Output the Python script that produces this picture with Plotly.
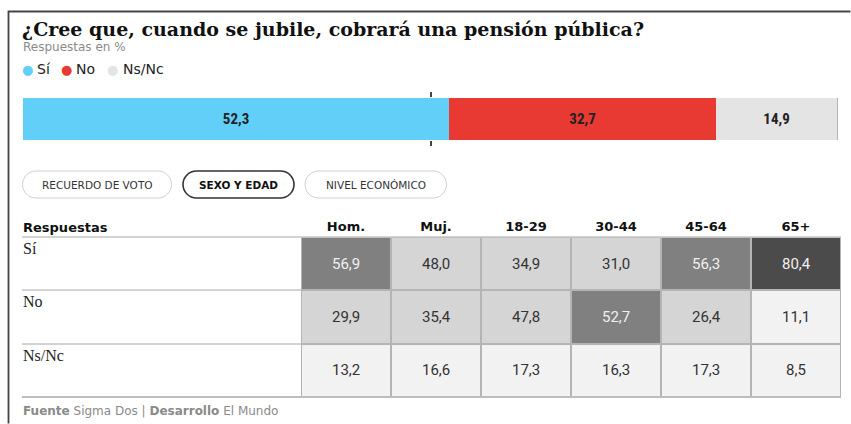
import plotly.graph_objects as go

W, H = 851, 424

# ---------------- data ----------------
answers = ["Sí", "No", "Ns/Nc"]
overall = [52.3, 32.7, 14.9]
answer_colors = ["#62cff9", "#e83a33", "#e4e4e4"]

groups = ["Hom.", "Muj.", "18-29", "30-44", "45-64", "65+"]
si_vals = [56.9, 48.0, 34.9, 31.0, 56.3, 80.4]
no_vals = [29.9, 35.4, 47.8, 52.7, 26.4, 11.1]
nsnc_vals = [13.2, 16.6, 17.3, 16.3, 17.3, 8.5]
table_vals = [si_vals, no_vals, nsnc_vals]

buttons = ["RECUERDO DE VOTO", "SEXO Y EDAD", "NIVEL ECONÓMICO"]

title = "¿Cree que, cuando se jubile, cobrará una pensión pública?"
subtitle = "Respuestas en %"


def fmt(v):
    return f"{v:.1f}".replace(".", ",")


def px(x):
    return x / W


def py(y):
    return 1 - y / H


SANS = "DejaVu Sans, sans-serif"
CELL = "Roboto, DejaVu Sans, sans-serif"
SERIF_T = "DejaVu Serif, serif"
SERIF = "Liberation Serif, serif"
NARROW = "Liberation Sans Narrow, Roboto Condensed, Roboto, sans-serif"

fig = go.Figure()

# ---------------- stacked bar ----------------
for name, val, col in zip(answers, overall, answer_colors):
    fig.add_trace(go.Bar(
        x=[val], y=[""], orientation="h", name=name,
        marker=dict(color=col, line=dict(width=0)),
        text=[f"<b>{fmt(val)}</b>"], textposition="inside",
        insidetextanchor="middle",
        textfont=dict(family=NARROW, size=15, color="#222"),
        hoverinfo="skip", showlegend=False,
        xaxis="x", yaxis="y",
    ))

# ---------------- heatmap table ----------------
colorscale = [
    [0.0, "#f2f2f2"], [0.2, "#f2f2f2"],
    [0.2, "#d5d5d5"], [0.5, "#d5d5d5"],
    [0.5, "#808080"], [0.75, "#808080"],
    [0.75, "#4b4b4b"], [1.0, "#4b4b4b"],
]
fig.add_trace(go.Heatmap(
    z=table_vals, x=groups, y=answers,
    zmin=0, zmax=100, colorscale=colorscale, showscale=False,
    xgap=2, ygap=2, hoverinfo="skip",
    xaxis="x2", yaxis="y2",
))

annotations = []
for r, row in enumerate(table_vals):
    for c, v in enumerate(row):
        annotations.append(dict(
            x=groups[c], y=answers[r], xref="x2", yref="y2",
            text=fmt(v), showarrow=False,
            font=dict(family=CELL, size=15,
                      color="#f0f0f0" if v >= 50 else "#333"),
        ))

# row labels (serif, top-left of each row)
for r, name in enumerate(answers):
    annotations.append(dict(
        x=px(21), y=r - 0.5, xref="paper", yref="y2",
        xanchor="left", yanchor="top", yshift=-1,
        text=name, showarrow=False,
        font=dict(family=SERIF, size=16, color="#222"),
    ))

# table header
annotations.append(dict(
    x=px(21), y=py(227.5), xref="paper", yref="paper",
    xanchor="left", yanchor="middle", text="<b>Respuestas</b>",
    showarrow=False, font=dict(family=SANS, size=13, color="#111"),
))

# title / subtitle
annotations.append(dict(
    x=px(20), y=py(29), xref="paper", yref="paper",
    xanchor="left", yanchor="middle", text=f"<b>{title}</b>",
    showarrow=False, font=dict(family=SERIF_T, size=19, color="#111"),
))
annotations.append(dict(
    x=px(21), y=py(47), xref="paper", yref="paper",
    xanchor="left", yanchor="middle", text=subtitle,
    showarrow=False, font=dict(family=SANS, size=12, color="#8a8a8a"),
))

# legend
leg_dot_x = [27, 66, 112]
leg_txt_x = [35, 74, 121]
for name, col, dx, tx in zip(answers, answer_colors, leg_dot_x, leg_txt_x):
    annotations.append(dict(
        x=px(dx), y=py(69), xref="paper", yref="paper",
        xanchor="center", yanchor="middle", text="●",
        showarrow=False, font=dict(family="DejaVu Sans", size=13, color=col),
    ))
    annotations.append(dict(
        x=px(tx), y=py(69), xref="paper", yref="paper",
        xanchor="left", yanchor="middle", text=name,
        showarrow=False, font=dict(family=SANS, size=14, color="#222"),
    ))

# buttons (pills)
shapes = []
pill_x = [(22.5, 171.5), (183, 294), (305, 446.5)]
pill_y = (171, 198)


def pill_path(x0, x1, y0, y1):
    r = (y1 - y0) / 2
    k = 0.5523 * r
    X = px
    Y = py
    p = f"M {X(x0 + r)},{Y(y0)} L {X(x1 - r)},{Y(y0)} "
    p += f"C {X(x1 - r + k)},{Y(y0)} {X(x1)},{Y(y0 + r - k)} {X(x1)},{Y(y0 + r)} "
    p += f"C {X(x1)},{Y(y0 + r + k)} {X(x1 - r + k)},{Y(y1)} {X(x1 - r)},{Y(y1)} "
    p += f"L {X(x0 + r)},{Y(y1)} "
    p += f"C {X(x0 + r - k)},{Y(y1)} {X(x0)},{Y(y0 + r + k)} {X(x0)},{Y(y0 + r)} "
    p += f"C {X(x0)},{Y(y0 + r - k)} {X(x0 + r - k)},{Y(y0)} {X(x0 + r)},{Y(y0)} Z"
    return p


for i, (label, (x0, x1)) in enumerate(zip(buttons, pill_x)):
    active = (i == 1)
    shapes.append(dict(
        type="path", path=pill_path(x0, x1, *pill_y),
        xref="paper", yref="paper",
        line=dict(color="#333" if active else "#d0d0d0", width=1.6 if active else 1),
        fillcolor="white",
    ))
    annotations.append(dict(
        x=px((x0 + x1) / 2), y=py(185), xref="paper", yref="paper",
        xanchor="center", yanchor="middle",
        text=f"<b>{label}</b>" if active else label,
        showarrow=False,
        font=dict(family=SANS, size=10.5, color="#111" if active else "#333"),
    ))

# footer
annotations.append(dict(
    x=px(21), y=py(411), xref="paper", yref="paper",
    xanchor="left", yanchor="middle",
    text="<b>Fuente</b> Sigma Dos | <b>Desarrollo</b> El Mundo",
    showarrow=False, font=dict(family=SANS, size=12, color="#8a8a8a"),
))

# frame (left + top) as a single open path
shapes.append(dict(
    type="path", xref="paper", yref="paper",
    path=f"M {px(8.5)},{py(423.5)} L {px(8.5)},{py(11.5)} L {px(850.5)},{py(11.5)}",
    line=dict(color="#444", width=1.8), fillcolor="rgba(0,0,0,0)",
))

# table rules
shapes.append(dict(type="line", xref="paper", yref="paper",
                   x0=px(22), x1=px(841), y0=py(237), y1=py(237),
                   line=dict(color="#c4c4c4", width=1.5)))
for yy in (290, 344):
    shapes.append(dict(type="line", xref="paper", yref="paper",
                       x0=px(22), x1=px(301), y0=py(yy), y1=py(yy),
                       line=dict(color="#c4c4c4", width=1.5)))
shapes.append(dict(type="line", xref="paper", yref="paper",
                   x0=px(22), x1=px(841), y0=py(397), y1=py(397),
                   line=dict(color="#bdbdbd", width=2)))

fig.update_layout(
    width=W, height=H,
    margin=dict(l=0, r=0, t=0, b=0),
    paper_bgcolor="white", plot_bgcolor="#b4b4b4",
    barmode="stack", bargap=0,
    showlegend=False,
    xaxis=dict(domain=[px(23), px(838)], range=[0, 100], fixedrange=True,
               showgrid=False, zeroline=False, showline=False,
               tickvals=[50], ticks="outside", ticklen=5, tickwidth=1.5,
               tickcolor="#444", mirror="ticks", showticklabels=False),
    yaxis=dict(domain=[py(140), py(98)], range=[-0.5, 0.5], fixedrange=True,
               showgrid=False, zeroline=False, showticklabels=False),
    xaxis2=dict(domain=[px(301), px(841)], side="top", anchor="y2",
                range=[-0.5, len(groups) - 0.5],
                showgrid=False, zeroline=False, ticks="", fixedrange=True,
                tickfont=dict(family=SANS, size=13, color="#111"),
                ticktext=[f"<b>{g}</b>" for g in groups], tickvals=groups,
                ticklabelstandoff=2),
    yaxis2=dict(domain=[py(397), py(237)], anchor="x2",
                range=[len(answers) - 0.5, -0.5],
                showgrid=False, zeroline=False, showticklabels=False,
                fixedrange=True),
    annotations=annotations,
    shapes=shapes,
)

fig.write_html("out.html", config={"displayModeBar": False},
               post_script="document.body.style.margin='0px';")
